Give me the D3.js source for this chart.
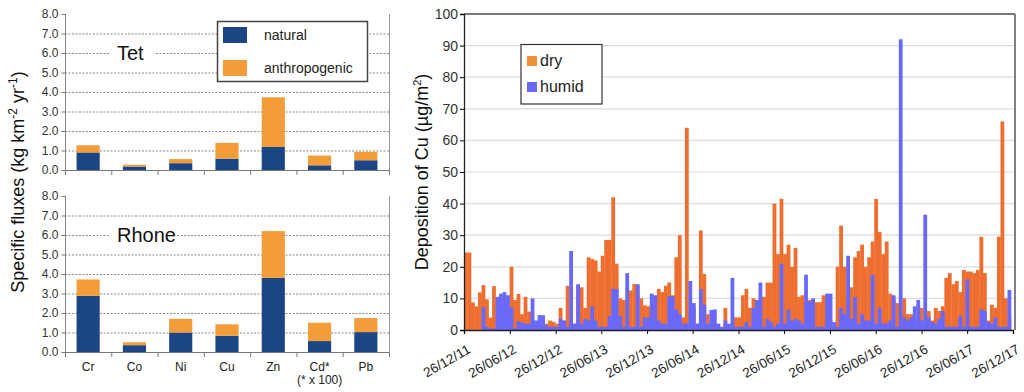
<!DOCTYPE html>
<html><head><meta charset="utf-8">
<script src="https://cdn.jsdelivr.net/npm/d3@7"></script>
<style>
body{margin:0;background:#fff;}
svg{display:block;font-family:"Liberation Sans",Arial,sans-serif;}
</style></head>
<body><svg id="c" width="1024" height="392"></svg>
<script>
// ---------- Left chart data ----------
const elements = ["Cr","Co","Ni","Cu","Zn","Cd*","Pb"];
const tetNatural   = [0.90,0.18,0.35,0.58,1.18,0.24,0.50];
const tetAnthro    = [0.37,0.09,0.21,0.81,2.55,0.50,0.43];
const rhoneNatural = [2.88,0.35,1.00,0.83,3.80,0.56,1.02];
const rhoneAnthro  = [0.84,0.15,0.70,0.59,2.40,0.94,0.72];
const fluxTicks = [0,1,2,3,4,5,6,7,8];

// ---------- Right chart data (biweekly periods from 26/12/2011) ----------
const periodStart = "2011-12-26";
const dry = [24.5,24.5,8.7,7.5,11.9,14.2,9.7,3.9,13.9,9,8,8,6,20,9.5,11.4,5,10.5,5.8,3,2,2,1,2,3,2.6,
 2,7,3,14,3,2,14,13.5,7,23,22.5,22,18.5,23.5,28.5,28.5,42,21,10,9.5,9,12.5,14.5,14,10,7.8,
 7.5,8,10.5,13,12,14,15,11,23,30,4,64,5,7,2,31.5,17.7,5,2,2,1,1,7,1,1,4,
 4,11,13,7,10,9.5,8,10.5,15,15,40,24,41.5,24,27,20,26,10.5,11,9,9.5,9.5,8.8,8.8,11,10,
 3,1,20,33,20,9,13.5,23,25,27,20,23,28,41.5,31,24,28,11.5,10,8.5,5,10,5,5,3,3,
 7,2,6,3,7,6,7.5,16.5,18,14.5,15.5,12,19,18.5,18.5,18,19,29.5,18,3,8,7,29.5,66,10,5];
const humid = [0,0,0,0,0,7.2,1,0.5,0.5,10.5,11.5,12,11,7.2,0.5,2.8,2.3,2,2,10,3,4.7,4.7,1.5,1,1,
 1,3.5,3,1,25,2,14.5,2,3.5,3,7.5,3,1,1,1,4.5,13,13,4.5,1,18,1,1,14.5,1,4,
 4,11.5,11,3,2,2,10.7,10.7,6.5,5,2,2,15.5,8.5,2,13,8,2,6.3,6.5,2,1,3,2,16.5,1,
 1,1,2.5,1,7,9.5,15,1,3.5,2.5,1,2,21,2,6.5,3,3.5,3,2,17.5,9,10,1,1,1,11.5,
 11.5,2.5,1,7,5,23.5,3.5,10.5,2,5,3,3,17.5,2,7,2,2,3,11,1,92,4,3,4,7.5,9.5,
 3,36.5,4,2.5,2,3.5,6,1,1,1,1,4.5,1,16,1,1,1,6.5,6,2.5,2,4,1,1,1,12.7];
const depTicks = [0,10,20,30,40,50,60,70,80,90,100];
const dateTicks = ["2011-12-26","2012-06-26","2012-12-26","2013-06-26","2013-12-26","2014-06-26",
 "2014-12-26","2015-06-26","2015-12-26","2016-06-26","2016-12-26","2017-06-26","2017-12-26"];

const COL_NAT="#1b4585", COL_ANT="#f29c3a", COL_DRY="#ee6e2f", COL_HUM="#6868fb";
const svg = d3.select("#c");

// ================= LEFT CHART =================
const xL = d3.scaleBand().domain(elements).range([65,389]).paddingInner(0.5).paddingOuter(0.25);
const step = xL.step();
function panel(y0,y1,nat,ant,label,labelW,showX){
  const y = d3.scaleLinear().domain([0,8]).range([y0,y1]);
  const g = svg.append("g");
  g.selectAll("line.grid").data(fluxTicks.filter(t=>t>0&&t<8)).join("line")
   .attr("x1",65).attr("x2",389).attr("y1",d=>y(d)+0.5).attr("y2",d=>y(d)+0.5)
   .attr("stroke","#8a8a8a").attr("stroke-width",1).attr("stroke-dasharray","2,1.5");
  g.append("rect").attr("x",110).attr("y",y(6)-8).attr("width",labelW).attr("height",16).attr("fill","#fff");
  g.append("text").attr("x",117).attr("y",y(6)+7).attr("font-size",20).attr("fill","#111").text(label);
  const stack = elements.map((e,i)=>({e,n:nat[i],a:ant[i]}));
  g.selectAll("rect.n").data(stack).join("rect")
   .attr("x",d=>xL(d.e)).attr("width",xL.bandwidth())
   .attr("y",d=>y(d.n)).attr("height",d=>y(0)-y(d.n)).attr("fill",COL_NAT);
  g.selectAll("rect.a").data(stack).join("rect")
   .attr("x",d=>xL(d.e)).attr("width",xL.bandwidth())
   .attr("y",d=>y(d.n+d.a)).attr("height",d=>y(d.n)-y(d.n+d.a)).attr("fill",COL_ANT);
  g.append("line").attr("x1",65.5).attr("x2",65.5).attr("y1",y1).attr("y2",y0).attr("stroke","#888");
  g.append("line").attr("x1",389.5).attr("x2",389.5).attr("y1",y1).attr("y2",y0).attr("stroke","#999");
  g.append("line").attr("x1",65).attr("x2",390).attr("y1",y0+0.5).attr("y2",y0+0.5).attr("stroke","#777");
  const ya = d3.axisLeft(y).tickValues(fluxTicks).tickFormat(d3.format(".1f")).tickSize(4).tickPadding(3);
  const ag = g.append("g").attr("transform","translate(65.5,0)").call(ya);
  ag.select(".domain").remove();
  ag.selectAll("line").attr("stroke","#777");
  ag.selectAll("text").attr("font-size",12).attr("fill","#333").attr("font-family","Liberation Sans, Arial");
  g.selectAll("line.xt").data(d3.range(elements.length+1)).join("line")
   .attr("x1",i=>65.5+i*step).attr("x2",i=>65.5+i*step).attr("y1",y0).attr("y2",y0+5).attr("stroke","#777");
  if(showX){
    g.selectAll("text.xl").data(elements).join("text")
     .attr("x",d=>xL(d)+xL.bandwidth()/2).attr("y",y0+19).attr("text-anchor","middle")
     .attr("font-size",12).attr("fill","#222").text(d=>d);
    g.append("text").attr("x",xL("Cd*")+xL.bandwidth()/2).attr("y",y0+32).attr("text-anchor","middle")
     .attr("font-size",12).attr("fill","#222").text("(* x 100)");
  }
  return y;
}
panel(170,14,tetNatural,tetAnthro,"Tet",44,false);
panel(352,196,rhoneNatural,rhoneAnthro,"Rhone",66,true);

const lg = svg.append("g");
lg.append("rect").attr("x",217.5).attr("y",21.5).attr("width",150).attr("height",60).attr("fill","#fff").attr("stroke","#444").attr("stroke-width",1.5);
lg.append("rect").attr("x",223).attr("y",27).attr("width",24).attr("height",16).attr("fill",COL_NAT);
lg.append("rect").attr("x",223).attr("y",60).attr("width",24).attr("height",16).attr("fill",COL_ANT);
lg.append("text").attr("x",264).attr("y",40).attr("font-size",14).attr("fill","#222").text("natural");
lg.append("text").attr("x",264).attr("y",73).attr("font-size",14).attr("fill","#222").text("anthropogenic");

const yl = svg.append("text").attr("transform","translate(24,182) rotate(-90)").attr("text-anchor","middle")
  .attr("font-size",18).attr("fill","#111");
yl.append("tspan").text("Specific fluxes (kg km");
yl.append("tspan").attr("font-size",12).attr("dy",-7).text("-2");
yl.append("tspan").attr("dy",7).text(" yr");
yl.append("tspan").attr("font-size",12).attr("dy",-7).text("-1");
yl.append("tspan").attr("dy",7).text(")");

// ================= RIGHT CHART =================
const parse = d3.utcParse("%Y-%m-%d");
const t0 = parse(periodStart);
const periods = dry.map((v,i)=>({s:d3.utcDay.offset(t0,14*i), e:d3.utcDay.offset(t0,14*(i+1)), dry:v, humid:humid[i]}));
const xR = d3.scaleUtc().domain([parse(dateTicks[0]),parse(dateTicks[dateTicks.length-1])]).range([464,1013]);
const yR = d3.scaleLinear().domain([0,100]).range([330,14]);
const rg = svg.append("g");
rg.selectAll("line.g").data(depTicks.filter(t=>t>0)).join("line")
  .attr("x1",464).attr("x2",1015).attr("y1",d=>yR(d)).attr("y2",d=>yR(d)).attr("stroke","#dcdcdc").attr("stroke-width",1.2);
rg.selectAll("rect.d").data(periods).join("rect")
  .attr("x",d=>xR(d.s)).attr("width",d=>xR(d.e)-xR(d.s)+0.3)
  .attr("y",d=>yR(d.dry)).attr("height",d=>yR(0)-yR(d.dry)).attr("fill",COL_DRY);
rg.selectAll("rect.h").data(periods).join("rect")
  .attr("x",d=>xR(d.s)).attr("width",d=>xR(d.e)-xR(d.s)+0.3)
  .attr("y",d=>yR(d.humid)).attr("height",d=>yR(0)-yR(d.humid)).attr("fill",COL_HUM);
rg.append("line").attr("x1",464).attr("x2",1015).attr("y1",14).attr("y2",14).attr("stroke","#555").attr("stroke-width",1.5);
rg.append("line").attr("x1",1015).attr("x2",1015).attr("y1",14).attr("y2",330).attr("stroke","#555").attr("stroke-width",1.5);
const yaR = d3.axisLeft(yR).tickValues(depTicks).tickSize(4).tickPadding(2);
const yag = rg.append("g").attr("transform","translate(464,0)").call(yaR);
yag.select(".domain").attr("stroke","#222").attr("stroke-width",1.3);
yag.selectAll("text").attr("font-size",14).attr("fill","#333").attr("font-family","Liberation Sans, Arial");
const xaR = d3.axisBottom(xR).tickValues(dateTicks.map(parse)).tickSize(4).tickFormat(d3.utcFormat("%d/%m/%y"));
const xag = rg.append("g").attr("transform","translate(0,330)").call(xaR);
xag.select(".domain").attr("stroke","#222").attr("stroke-width",1.3);
xag.selectAll("text").attr("font-size",13.5).attr("fill","#222").attr("font-family","Liberation Sans, Arial")
  .attr("text-anchor","end").attr("dy",0).attr("y",0)
  .attr("transform","translate(7,22) rotate(-30)");
const yr = svg.append("text").attr("transform","translate(428,172) rotate(-90)").attr("text-anchor","middle")
  .attr("font-size",18).attr("fill","#111");
yr.append("tspan").text("Deposition of Cu (µg/m");
yr.append("tspan").attr("font-size",11).attr("dy",-7).text("2");
yr.append("tspan").attr("dy",7).text(")");
const rl = svg.append("g");
rl.append("rect").attr("x",521).attr("y",44.5).attr("width",81).attr("height",59.5).attr("fill","#fff").attr("stroke","#333").attr("stroke-width",1.2);
rl.append("rect").attr("x",527).attr("y",56).attr("width",10).attr("height",10).attr("fill","#f0913a");
rl.append("rect").attr("x",527).attr("y",82).attr("width",10).attr("height",10).attr("fill",COL_HUM);
rl.append("text").attr("x",540).attr("y",66).attr("font-size",16).attr("fill","#222").text("dry");
rl.append("text").attr("x",540).attr("y",92).attr("font-size",16).attr("fill","#222").text("humid");
</script></body></html>
